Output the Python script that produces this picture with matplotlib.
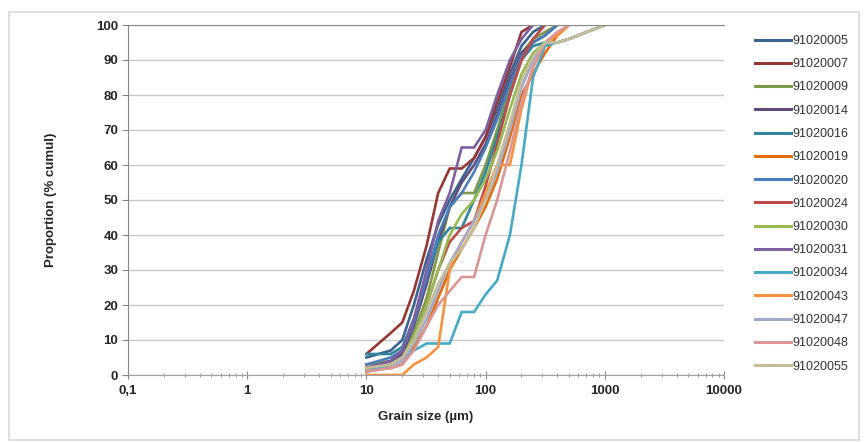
import numpy as np
import matplotlib.pyplot as plt
from matplotlib.patches import Rectangle
from matplotlib.ticker import LogLocator, FixedLocator, FixedFormatter

plt.rcParams['font.family'] = ['Liberation Sans', 'DejaVu Sans']

# sieve sizes (um) shared by every sample
sizes = [10, 16, 20, 25, 32, 40, 50, 63, 80, 100, 125, 160, 200, 250, 315, 400, 500, 1000]
N = None
# cumulative proportions (%)
s05 = [5, 7, 10, 20, 33, 43, 50, 56, 62, 68, 76, 86, 94, 98, 100, N, N, N]
s07 = [6, 12, 15, 24, 37, 52, 59, 59, 62, 68, 78, 88, 98, 100, N, N, N, N]
s09 = [3, 4, 6, 12, 22, 35, 48, 52, 52, 60, 70, 82, 92, 96, 98, 100, N, N]
s14 = [2, 4, 6, 14, 26, 38, 48, 55, 60, 66, 74, 84, 92, 95, 97, 100, N, N]
s16 = [6, 6, 8, 16, 28, 38, 42, 42, 50, 58, 68, 80, 90, 94, 95, 95, 96, 100]
s19 = [2, 2, 3, 8, 14, 22, 30, 36, 42, 48, 56, 68, 80, 86, 92, 97, 100, N]
s20 = [3, 5, 7, 15, 28, 40, 48, 52, 58, 65, 73, 83, 91, 95, 97, 100, N, N]
s24 = [2, 3, 5, 10, 20, 30, 38, 42, 44, 54, 66, 80, 90, 96, 100, N, N, N]
s30 = [1, 3, 5, 11, 20, 30, 40, 46, 50, 56, 64, 76, 86, 92, 95, 95, 96, 100]
s31 = [2, 4, 7, 16, 30, 44, 52, 65, 65, 70, 80, 90, 96, 100, N, N, N, N]
s34 = [1, 3, 5, 7, 9, 9, 9, 18, 18, 23, 27, 40, 60, 85, 94, 95, 96, 100]
s43 = [0, 0, 0, 3, 5, 8, 30, 38, 44, 52, 60, 60, 76, 88, 95, 97, 100, N]
s47 = [1, 2, 4, 9, 16, 24, 32, 38, 44, 50, 58, 70, 82, 90, 95, 95, 96, 100]
s48 = [1, 2, 3, 7, 14, 20, 24, 28, 28, 40, 50, 64, 78, 88, 95, 98, 100, N]
s55 = [2, 3, 5, 10, 18, 26, 32, 36, 42, 50, 60, 72, 84, 91, 95, 95, 96, 100]

names = ['91020005', '91020007', '91020009', '91020014', '91020016',
         '91020019', '91020020', '91020024', '91020030', '91020031',
         '91020034', '91020043', '91020047', '91020048', '91020055']
series = [s05, s07, s09, s14, s16, s19, s20, s24, s30, s31, s34, s43, s47, s48, s55]
colors = ['#3A6390', '#953735', '#7F9A48', '#5F4B7E', '#31859C',
          '#E46C0A', '#4A7EBB', '#BE4B48', '#98B954', '#7D60A0',
          '#46AAC5', '#F69240', '#A3A9CC', '#D99694', '#C4BD97']

fig = plt.figure(figsize=(8.66, 4.42), dpi=100)
fig.patches.append(Rectangle((9 / 866, 2 / 442), 850 / 866, 428 / 442,
                             transform=fig.transFigure, fill=False,
                             edgecolor='#D9D9D9', lw=1.2))
ax = fig.add_axes([128 / 866, 1 - 375 / 442, 596 / 866, 350 / 442])

for vals, name, c in zip(series, names, colors):
    y = np.array([np.nan if v is None else v for v in vals], dtype=float)
    ax.plot(sizes, y, color=c, lw=1.9, label=name, solid_joinstyle='miter')

ax.set_xscale('log')
ax.set_xlim(0.1, 10000)
ax.set_ylim(0, 100)
ax.set_yticks(range(0, 101, 10))
ax.xaxis.set_major_locator(FixedLocator([0.1, 1, 10, 100, 1000, 10000]))
ax.xaxis.set_major_formatter(FixedFormatter(['0,1', '1', '10', '100', '1000', '10000']))
ax.xaxis.set_minor_locator(LogLocator(base=10, subs=np.arange(2, 10), numticks=20))

ax.grid(axis='y', color='#C8C8C8', lw=1.0)
ax.set_axisbelow(True)
ax.spines['right'].set_visible(False)
ax.spines['top'].set_color('#8C8C8C')
ax.spines['left'].set_color('#868686')
ax.spines['bottom'].set_color('#A0A0A0')

ax.tick_params(axis='y', direction='out', length=4, color='#868686',
               labelsize=9.5, pad=3)
ax.tick_params(axis='x', which='major', direction='inout', length=6,
               color='#868686', labelsize=9.5, pad=4)
ax.tick_params(axis='x', which='minor', direction='inout', length=3,
               color='#868686')
for lab in ax.get_xticklabels() + ax.get_yticklabels():
    lab.set_fontweight('bold')
    lab.set_color('#262626')

ax.set_xlabel('Grain size (\u00b5m)', fontsize=9.5, fontweight='bold',
              color='#262626', labelpad=10)
ax.set_ylabel('Proportion (% cumul)', fontsize=9.5, fontweight='bold',
              color='#262626', labelpad=28)

leg = ax.legend(loc='upper left', bbox_to_anchor=(750 / 866, 1 - 30 / 442),
                bbox_transform=fig.transFigure, frameon=False, fontsize=9,
                handlelength=2.9, handletextpad=0.12, labelspacing=0.9,
                borderaxespad=0)
for t in leg.get_texts():
    t.set_color('#333333')
for h in leg.get_lines():
    h.set_linewidth(2.2)

fig.savefig('out.png', dpi=100)
